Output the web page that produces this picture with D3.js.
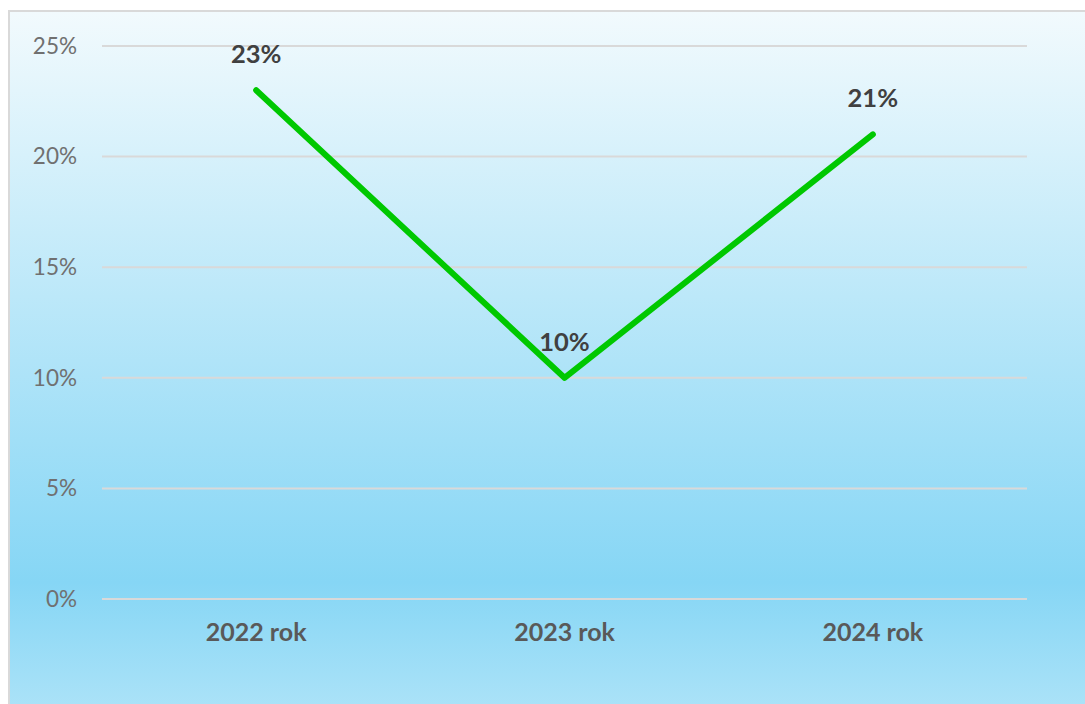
<!DOCTYPE html>
<html>
<head>
<meta charset="utf-8">
<script src="https://cdn.jsdelivr.net/npm/d3@7"></script>
<style>
html, body { margin: 0; padding: 0; background: #ffffff; }
svg { display: block; }
</style>
</head>
<body>
<svg id="chart" width="1085" height="704"></svg>
<script>
const categories = ["2022 rok", "2023 rok", "2024 rok"];
const values = [0.23, 0.10, 0.21];
const valueLabels = ["23%", "10%", "21%"];
const yTicks = [0, 0.05, 0.10, 0.15, 0.20, 0.25];
const yTickLabels = ["0%", "5%", "10%", "15%", "20%", "25%"];

const svg = d3.select("#chart");
const W = 1085, H = 704;

const defs = svg.append("defs");
const grad = defs.append("linearGradient")
  .attr("id", "bg").attr("x1", 0).attr("y1", 0).attr("x2", 0).attr("y2", 1);
grad.append("stop").attr("offset", "0%").attr("stop-color", "#f2fafd");
grad.append("stop").attr("offset", "80%").attr("stop-color", "#86d6f5");
grad.append("stop").attr("offset", "100%").attr("stop-color", "#b0e4f8");

svg.append("rect")
  .attr("x", 9).attr("y", 11).attr("width", W + 10).attr("height", H + 10)
  .attr("fill", "url(#bg)")
  .attr("stroke", "#d9d9d9").attr("stroke-width", 2);

const plotLeft = 102, plotRight = 1027, plotTop = 46, plotBottom = 599;

const x = d3.scaleBand().domain(categories).range([plotLeft, plotRight]);
const y = d3.scaleLinear().domain([0, 0.25]).range([plotBottom, plotTop]);

// gridlines
svg.append("g").selectAll("line").data(yTicks).join("line")
  .attr("x1", plotLeft).attr("x2", plotRight)
  .attr("y1", d => y(d)).attr("y2", d => y(d))
  .attr("stroke", "#d9d9d9").attr("stroke-width", 2);

// y axis labels
const yAxis = d3.axisLeft(y).tickValues(yTicks)
  .tickFormat((d, i) => yTickLabels[i]).tickSize(0).tickPadding(25);
const gy = svg.append("g").attr("transform", `translate(${plotLeft},0)`).call(yAxis);
gy.select(".domain").remove();
gy.selectAll("text")
  .attr("font-family", "Lato, sans-serif").attr("font-size", 22.5)
  .attr("fill", "#707070");

// x axis labels
const xAxis = d3.axisBottom(x).tickSize(0).tickPadding(24);
const gx = svg.append("g").attr("transform", `translate(0,${plotBottom})`).call(xAxis);
gx.select(".domain").remove();
gx.selectAll("text")
  .attr("font-family", "Lato, sans-serif").attr("font-size", 25)
  .attr("font-weight", "bold").attr("fill", "#595959");

// line
const pts = categories.map((c, i) => ({ c, v: values[i], l: valueLabels[i] }));
const line = d3.line().x(d => x(d.c) + x.bandwidth() / 2).y(d => y(d.v));
svg.append("path").datum(pts)
  .attr("d", line).attr("fill", "none")
  .attr("stroke", "#00c800").attr("stroke-width", 6)
  .attr("stroke-linecap", "round").attr("stroke-linejoin", "round");

// data labels
svg.append("g").selectAll("text").data(pts).join("text")
  .attr("x", d => x(d.c) + x.bandwidth() / 2)
  .attr("y", d => y(d.v) - 27)
  .attr("text-anchor", "middle")
  .attr("font-family", "Lato, sans-serif").attr("font-size", 25.5)
  .attr("font-weight", "bold").attr("fill", "#404040")
  .text(d => d.l);
</script>
</body>
</html>
